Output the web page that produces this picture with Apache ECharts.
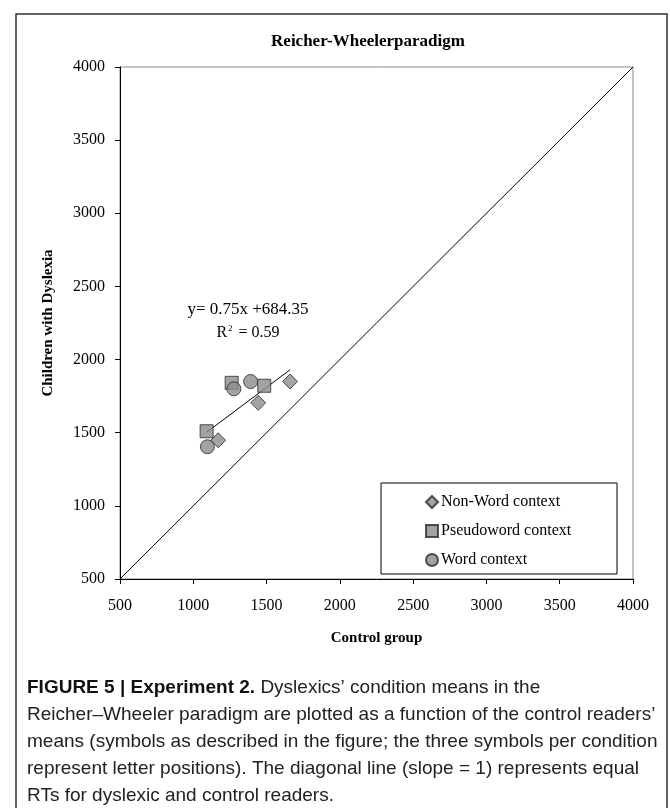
<!DOCTYPE html>
<html>
<head>
<meta charset="utf-8">
<script src="https://cdn.jsdelivr.net/npm/echarts@6/dist/echarts.min.js"></script>
<style>
  html, body { margin: 0; padding: 0; background: #fff; }
  #chart { width: 670px; height: 808px; }
</style>
</head>
<body>
<div id="chart"></div>
<script>
// values: [control RT, dyslexic RT]
var nonWord = [[1170, 1448], [1443, 1704], [1660, 1850]];
var pseudoword = [[1091, 1510], [1262, 1841], [1484, 1821]];
var word = [[1096, 1404], [1277, 1800], [1391, 1850]];
// fitted trend line ends (y = 0.75x + 684.35) and the slope-1 diagonal
var trendLine = [[1091, 1503], [1660, 1930]];
var diagonal = [[500, 500], [4000, 4000]];
var axisTicks = [500, 4000, 500]; // min, max, step

var serif = 'Liberation Serif';
var symbolStyle = { color: '#8c8c8c', borderColor: '#2a2a2a', borderWidth: 1 };

var chart = echarts.init(document.getElementById('chart'));

var option = {
    animation: false,
    backgroundColor: '#fff',
    title: {
        text: 'Reicher-Wheelerparadigm',
        left: 363,
        top: 28,
        textAlign: 'center',
        textStyle: { fontFamily: serif, fontWeight: 'bold', fontSize: 17, color: '#000' }
    },
    grid: {
        left: 120, right: 37, top: 67, bottom: 229,
        show: true, borderColor: '#8a8a8a', borderWidth: 1
    },
    legend: {
        orient: 'vertical',
        left: 420,
        top: 489,
        itemWidth: 12,
        itemHeight: 12,
        itemGap: 13,
        data: ['Non-Word context', 'Pseudoword context', 'Word context'],
        textStyle: { fontFamily: serif, fontSize: 16, color: '#000', lineHeight: 16, padding: [0, 0, 0, -2] }
    },
    xAxis: {
        type: 'value',
        min: axisTicks[0], max: axisTicks[1], interval: axisTicks[2],
        name: 'Control group',
        nameLocation: 'middle',
        nameGap: 52,
        nameTextStyle: { fontFamily: serif, fontWeight: 'bold', fontSize: 15, color: '#000' },
        axisLine: { lineStyle: { color: '#000', width: 1 } },
        axisTick: { show: true, length: 5, lineStyle: { color: '#000' } },
        axisLabel: { fontFamily: serif, fontSize: 16, color: '#000', margin: 19,
                     formatter: function (v) { return String(v); } },
        splitLine: { show: false }
    },
    yAxis: {
        type: 'value',
        min: axisTicks[0], max: axisTicks[1], interval: axisTicks[2],
        name: 'Children with Dyslexia',
        nameLocation: 'middle',
        nameGap: 64,
        nameTextStyle: { fontFamily: serif, fontWeight: 'bold', fontSize: 15, color: '#000' },
        axisLine: { show: true, lineStyle: { color: '#000', width: 1 } },
        axisTick: { show: true, length: 5, lineStyle: { color: '#000' } },
        axisLabel: { fontFamily: serif, fontSize: 16, color: '#000', margin: 15,
                     formatter: function (v) { return String(v); } },
        splitLine: { show: false }
    },
    graphic: [
        // outer figure frame
        { type: 'rect', shape: { x: 16, y: 14, width: 651, height: 800 },
          style: { fill: null, stroke: '#333', lineWidth: 1.5 }, silent: true },
        // legend box
        { type: 'rect', shape: { x: 381, y: 483, width: 236, height: 91 },
          style: { fill: '#fff', stroke: '#000', lineWidth: 1 }, z: 1 },
        // regression annotation
        { type: 'text', x: 248, y: 310, z: 10,
          style: { text: 'y= 0.75x +684.35', font: '17px ' + serif, fill: '#000',
                   align: 'center', verticalAlign: 'middle' } },
        { type: 'text', x: 248, y: 333, z: 10,
          style: { text: 'R{s|2} = 0.59', font: '16px ' + serif, fill: '#000',
                   align: 'center', verticalAlign: 'middle',
                   rich: { s: { fontSize: 9, fontFamily: serif, verticalAlign: 'top', padding: [0, 2, 8, 1] } } } },
        // caption
        { type: 'text', left: 27, top: 674, z: 10,
          style: {
              text: '{b|FIGURE 5 | Experiment 2.} Dyslexics\u2019 condition means in the\n' +
                    'Reicher\u2013Wheeler paradigm are plotted as a function of the control readers\u2019\n' +
                    'means (symbols as described in the figure; the three symbols per condition\n' +
                    'represent letter positions). The diagonal line (slope = 1) represents equal\n' +
                    'RTs for dyslexic and control readers.',
              font: '19px Liberation Sans', fill: '#222', lineHeight: 27,
              rich: { b: { fontWeight: 'bold', fontSize: 19, fontFamily: 'Liberation Sans', fill: '#111', lineHeight: 27 } }
          } }
    ],
    series: [
        {
            name: 'diagonal', type: 'line', data: diagonal, showSymbol: false, silent: true,
            lineStyle: { color: '#000', width: 1 }, z: 2
        },
        {
            name: 'trend', type: 'line', data: trendLine, showSymbol: false, silent: true,
            lineStyle: { color: '#000', width: 1 }, z: 2
        },
        {
            name: 'Non-Word context', type: 'scatter', symbol: 'diamond', symbolSize: 15,
            data: nonWord, itemStyle: symbolStyle, z: 3
        },
        {
            name: 'Pseudoword context', type: 'scatter', symbol: 'rect', symbolSize: 13,
            data: pseudoword, itemStyle: symbolStyle, z: 3
        },
        {
            name: 'Word context', type: 'scatter', symbol: 'circle', symbolSize: 14,
            data: word, itemStyle: symbolStyle, z: 3
        }
    ]
};

chart.setOption(option);
</script>
</body>
</html>
